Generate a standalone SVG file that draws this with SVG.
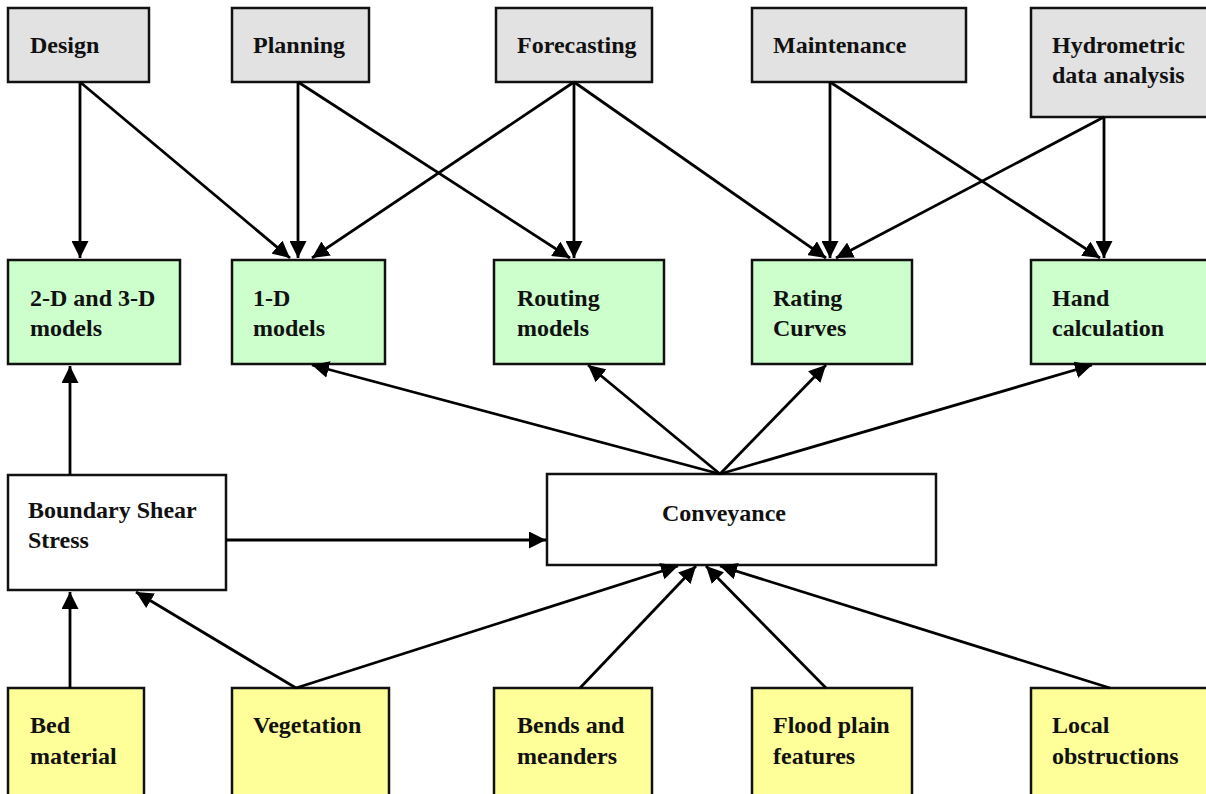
<svg xmlns="http://www.w3.org/2000/svg" width="1206" height="794" viewBox="0 0 1206 794">
  <defs>
    <marker id="ah" viewBox="0 0 10 10" refX="10" refY="5" markerWidth="17" markerHeight="17" markerUnits="userSpaceOnUse" orient="auto">
      <path d="M0,0 L10,5 L0,10 z" fill="#000"/>
    </marker>
    <style>
      .box rect { stroke: #111; stroke-width: 2.5; }
      .grey rect { fill: #e2e2e2; }
      .green rect { fill: #ccffcc; }
      .white rect { fill: #ffffff; }
      .yellow rect { fill: #ffff99; }
      text { font-family: "Liberation Serif", "Times New Roman", serif; font-weight: bold; font-size: 24px; fill: #111; }
      .links line { stroke: #000; stroke-width: 2.8; marker-end: url(#ah); }
    </style>
  </defs>
  <rect width="1206" height="794" fill="#fff"/>

  <!-- Applications -->
  <g id="design" class="box grey"><rect x="8" y="8" width="141" height="74"/><text x="30" y="53">Design</text></g>
  <g id="planning" class="box grey"><rect x="232" y="8" width="137" height="74"/><text x="253" y="53">Planning</text></g>
  <g id="forecasting" class="box grey"><rect x="496" y="8" width="156" height="74"/><text x="517" y="53">Forecasting</text></g>
  <g id="maintenance" class="box grey"><rect x="752" y="8" width="214" height="74"/><text x="773" y="53">Maintenance</text></g>
  <g id="hydrometric" class="box grey"><rect x="1031" y="8" width="180" height="109"/><text x="1052" y="53">Hydrometric</text><text x="1052" y="83">data analysis</text></g>

  <!-- Tools -->
  <g id="models23d" class="box green"><rect x="8" y="260" width="172" height="104"/><text x="30" y="306">2-D and 3-D</text><text x="30" y="336">models</text></g>
  <g id="models1d" class="box green"><rect x="232" y="260" width="153" height="104"/><text x="253" y="306">1-D</text><text x="253" y="336">models</text></g>
  <g id="routing" class="box green"><rect x="494" y="260" width="170" height="104"/><text x="517" y="306">Routing</text><text x="517" y="336">models</text></g>
  <g id="rating" class="box green"><rect x="752" y="260" width="160" height="104"/><text x="773" y="306">Rating</text><text x="773" y="336">Curves</text></g>
  <g id="hand" class="box green"><rect x="1031" y="260" width="180" height="104"/><text x="1052" y="306">Hand</text><text x="1052" y="336">calculation</text></g>

  <!-- Core quantities -->
  <g id="shear" class="box white"><rect x="8" y="475" width="218" height="115"/><text x="28" y="518">Boundary Shear</text><text x="28" y="548">Stress</text></g>
  <g id="conveyance" class="box white"><rect x="547" y="474" width="389" height="91"/><text x="724" y="521" text-anchor="middle">Conveyance</text></g>

  <!-- Influencing factors -->
  <g id="bed" class="box yellow"><rect x="8" y="688" width="136" height="120"/><text x="30" y="733">Bed</text><text x="30" y="764">material</text></g>
  <g id="vegetation" class="box yellow"><rect x="232" y="688" width="157" height="120"/><text x="253" y="733">Vegetation</text></g>
  <g id="bends" class="box yellow"><rect x="494" y="688" width="158" height="120"/><text x="517" y="733">Bends and</text><text x="517" y="764">meanders</text></g>
  <g id="floodplain" class="box yellow"><rect x="752" y="688" width="160" height="120"/><text x="773" y="733">Flood plain</text><text x="773" y="764">features</text></g>
  <g id="local" class="box yellow"><rect x="1031" y="688" width="180" height="120"/><text x="1052" y="733">Local</text><text x="1052" y="764">obstructions</text></g>

  <!-- Connectors -->
  <g id="connectors" class="links">
    <line x1="80" y1="82" x2="80" y2="258"/>
    <line x1="80" y1="82" x2="290" y2="258"/>
    <line x1="298" y1="82" x2="298" y2="258"/>
    <line x1="298" y1="82" x2="570" y2="258"/>
    <line x1="574" y1="82" x2="312" y2="258"/>
    <line x1="574" y1="82" x2="574" y2="258"/>
    <line x1="574" y1="82" x2="826" y2="258"/>
    <line x1="830" y1="82" x2="830" y2="258"/>
    <line x1="830" y1="82" x2="1100" y2="258"/>
    <line x1="1104" y1="117" x2="836" y2="258"/>
    <line x1="1104" y1="117" x2="1104" y2="258"/>

    <line x1="720" y1="474" x2="312" y2="365"/>
    <line x1="720" y1="474" x2="588" y2="365"/>
    <line x1="720" y1="474" x2="826" y2="365"/>
    <line x1="720" y1="474" x2="1092" y2="365"/>

    <line x1="70" y1="475" x2="70" y2="366"/>
    <line x1="226" y1="540" x2="546" y2="540"/>

    <line x1="70" y1="688" x2="70" y2="592"/>
    <line x1="296" y1="688" x2="136" y2="592"/>
    <line x1="296" y1="688" x2="678" y2="566"/>
    <line x1="580" y1="688" x2="696" y2="566"/>
    <line x1="826" y1="688" x2="706" y2="566"/>
    <line x1="1110" y1="688" x2="720" y2="566"/>
  </g>
</svg>
